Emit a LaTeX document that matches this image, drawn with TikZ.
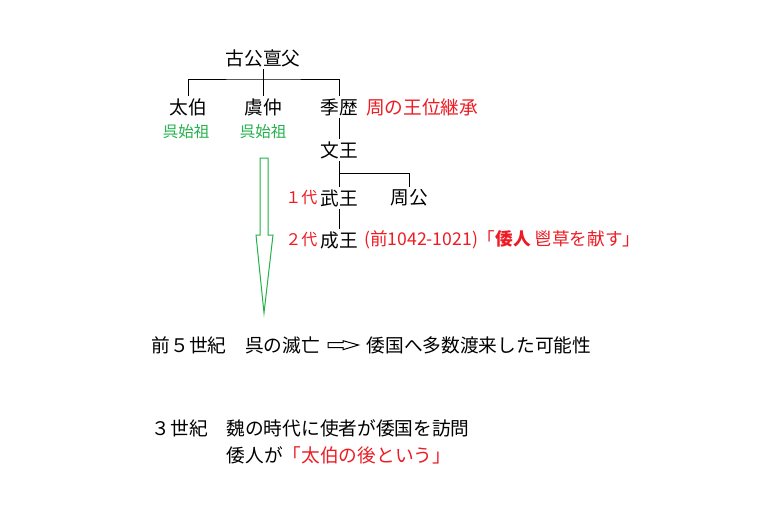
\documentclass[tikz,border=0pt]{standalone}
\usepackage{fontspec}
\setmainfont{Noto Sans CJK JP}
\usetikzlibrary{positioning}
\definecolor{zred}{HTML}{ED1C24}
\definecolor{zgreen}{HTML}{22B14C}
\begin{document}
\begin{tikzpicture}
  [x=1pt,y=-1pt,
   nameN/.style={inner sep=2.5pt,font=\fontsize{18.7}{20}\selectfont},
   subN/.style={inner sep=0pt,text=zgreen,font=\fontsize{15.5}{17}\selectfont},
   noteN/.style={nameN,text=zred},
   genN/.style={inner sep=0pt,text=zred,font=\fontsize{16}{18}\selectfont},
   lineN/.style={nameN,anchor=west},
   treeE/.style={draw,line width=1pt},
   blockA/.style={draw,line width=1pt,line join=miter},
  ]
 \fill[white] (0,0) rectangle (765,515);
 \useasboundingbox (0,0) rectangle (765,515);

 % family tree
 \node[nameN] (kokou) at (263,58) {古公亶父};
 \node[nameN] (taihaku) at (188,107) {太伯};
 \node[nameN] (guchu) at (263,107) {虞仲};
 \node[nameN] (kireki) at (339,107) {季歴};
 \node[noteN,right=3pt of kireki] (ouiN) {周の王位継承};
 \node[subN] (goA) at (186,132) {呉始祖};
 \node[subN] (goB) at (263,132) {呉始祖};
 \node[nameN] (bunou) at (339,150) {文王};
 \node[nameN] (buou) at (339,198) {武王};
 \node[nameN] (shukou) at (409,198) {周公};
 \node[genN,left=0pt of buou] (gen1) {１代};
 \node[nameN] (seiou) at (339,240) {成王};
 \node[genN,left=0pt of seiou] (gen2) {２代};
 \node[noteN,anchor=west,inner sep=0pt,font=\fontsize{17.6}{19}\selectfont]
   (chosoN) at (364,240) {(前1042-1021)「\textbf{倭人} 鬯草を献す」};

 \coordinate (fork1) at (263,79);
 \coordinate (fork2) at (339,173);
 \draw[treeE] (kokou.south) -- (fork1);
 \draw[treeE] (taihaku.north) |- (fork1) -| (kireki.north);
 \draw[treeE] (fork1) -- (guchu.north);
 \draw[treeE] (kireki.south) -- (bunou.north);
 \draw[treeE] (bunou.south) -- (buou.north);
 \draw[treeE] (fork2) -| (shukou.north);
 \draw[treeE] (buou.south) -- (seiou.north);

 % green arrow down to the 5th century
 \draw[blockA,zgreen] (260,158) -- (268,158) -- (268,235) -- (273,235)
   -- (264,313) -- (256,235) -- (260,235) -- cycle;

 % notes
 \node[lineN] (metsubou) at (149,345) {前５世紀　呉の滅亡};
 \node[lineN] (torai) at (364,345) {倭国へ多数渡来した可能性};
 \draw[blockA] (328,342.7) -- (343,342.7) -- (343,340.7) -- (358.5,345)
   -- (343,349.7) -- (343,347.7) -- (328,347.7) -- cycle;
 \node[lineN] (gi) at (149,428) {３世紀　魏の時代に使者が倭国を訪問};
 \node[lineN] (wajin) at (224,455) {倭人が{\color{zred}「太伯の後という」}};
\end{tikzpicture}
\end{document}
